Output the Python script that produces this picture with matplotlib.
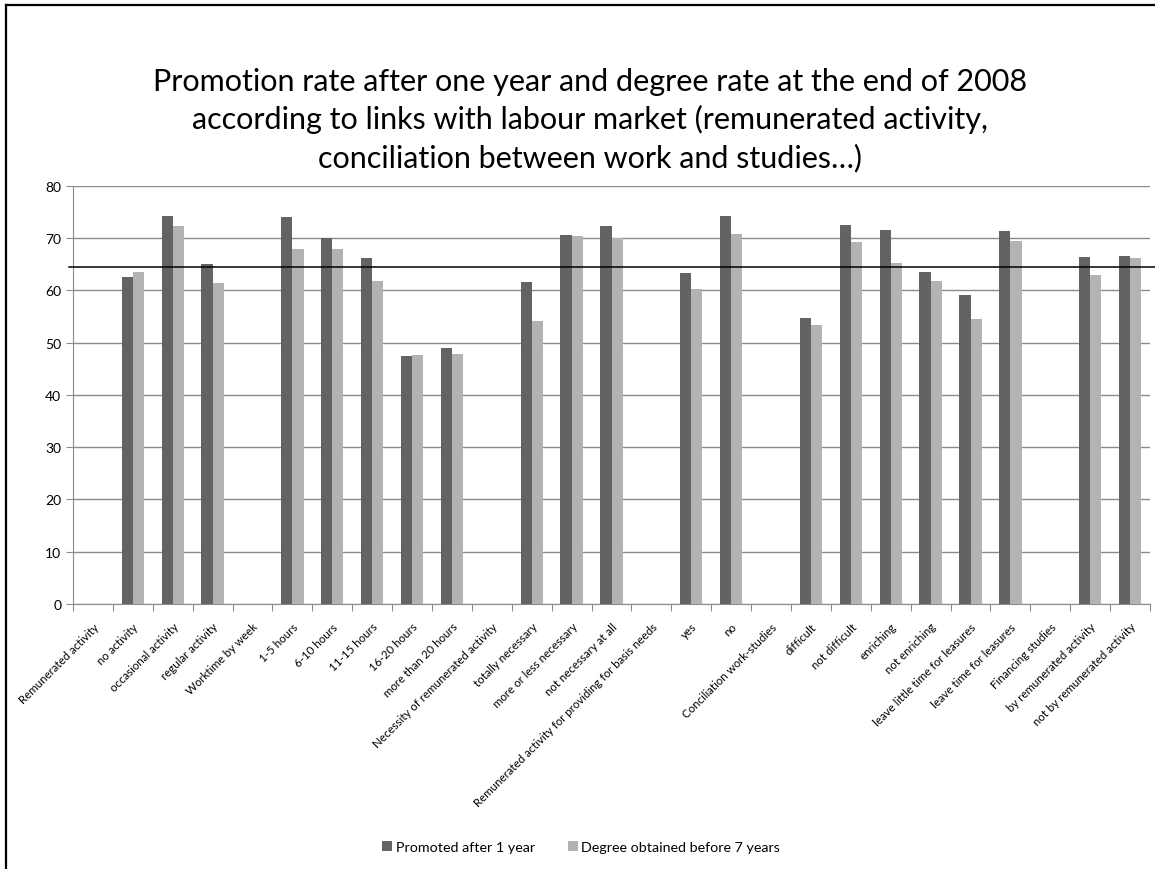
import numpy as np
import matplotlib
matplotlib.use('Agg')
import matplotlib.pyplot as plt
from matplotlib.lines import Line2D

plt.rcParams['font.family'] = ['Lato', 'DejaVu Sans']

categories = ['Remunerated activity', 'no activity', 'occasional activity', 'regular activity',
              'Worktime by week', '1-5 hours', '6-10 hours', '11-15 hours', '16-20 hours',
              'more than 20 hours', 'Necessity of remunerated activity', 'totally necessary',
              'more or less necessary', 'not necessary at all',
              'Remunerated activity for providing for basis needs', 'yes', 'no',
              'Conciliation work-studies', 'difficult', 'not difficult', 'enriching',
              'not enriching', 'leave little time for leasures', 'leave time for leasures',
              'Financing studies', 'by remunerated activity', 'not by remunerated activity']

nan = np.nan
promoted = [nan, 62.5, 74.2, 65.0, nan, 74.0, 70.1, 66.2, 47.4, 49.0, nan, 61.6, 70.6, 72.4,
            nan, 63.4, 74.3, nan, 54.7, 72.5, 71.6, 63.5, 59.1, 71.4, nan, 66.5, 66.6]
degree = [nan, 63.5, 72.3, 61.4, nan, 68.0, 68.0, 61.8, 47.6, 47.8, nan, 54.2, 70.5, 70.0,
          nan, 60.3, 70.9, nan, 53.4, 69.2, 65.3, 61.9, 54.6, 69.5, nan, 63.0, 66.3]
overall_rate = 64.4

series_names = ['Promoted after 1 year', 'Degree obtained before 7 years']

fig = plt.figure(figsize=(11.55, 8.7), dpi=100)
ax = fig.add_axes([0.0632, 0.3046, 0.9325, 0.4805])

x = np.arange(len(categories))
w = 0.28
ax.bar(x - w / 2, promoted, width=w, color='#636363', label=series_names[0], zorder=3)
ax.bar(x + w / 2, degree, width=w, color='#b3b3b3', label=series_names[1], zorder=3)

# average line, runs a little past the plot area like in the original
ax.axhline(overall_rate, xmin=-0.004, xmax=1.01, color='black', lw=1.1, clip_on=False, zorder=4)

ax.set_xlim(-0.5, len(categories) - 0.5)
ax.set_ylim(0, 80)
ax.set_yticks(range(0, 81, 10))
ax.yaxis.grid(True, color='#8c8c8c', lw=1)
ax.set_axisbelow(True)

ax.set_xticks(np.arange(-0.5, len(categories), 1))
ax.set_xticklabels([])
ax.set_xticks(x, minor=True)
ax.set_xticklabels(categories, minor=True, rotation=45, ha='right', rotation_mode='anchor',
                   fontsize=8.3)
ax.tick_params(axis='x', which='major', length=5, color='#8c8c8c')
ax.tick_params(axis='x', which='minor', length=0, pad=12)
ax.tick_params(axis='y', length=5, color='#8c8c8c', labelsize=10)

for s in ['top', 'right']:
    ax.spines[s].set_visible(False)
for s in ['left', 'bottom']:
    ax.spines[s].set_color('#8c8c8c')

fig.text(0.511, 0.862,
         'Promotion rate after one year and degree rate at the end of 2008\n'
         'according to links with labour market (remunerated activity,\n'
         'conciliation between work and studies…)',
         ha='center', va='center', fontsize=22, linespacing=1.38)

fig.legend(loc='center', bbox_to_anchor=(0.503, 0.025), ncol=2, frameon=False,
           fontsize=10.3, handlelength=0.7, handleheight=0.7, columnspacing=2.3,
           handletextpad=0.25)

# chart frame (left and top edges only visible in the reference)
fig.add_artist(Line2D([6 / 1155, 6 / 1155], [0, 1 - 6 / 870], color='black', lw=1.6,
                      transform=fig.transFigure))
fig.add_artist(Line2D([6 / 1155, 1], [1 - 6 / 870, 1 - 6 / 870], color='black', lw=1.6,
                      transform=fig.transFigure))

fig.savefig('out.png', dpi=100)
